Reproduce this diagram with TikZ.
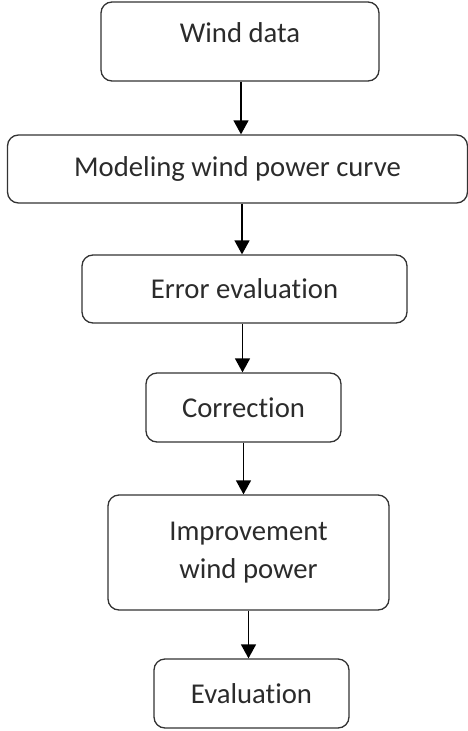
\documentclass[tikz,border=0pt]{standalone}
\usepackage{fontspec}
\setmainfont[Ligatures=NoCommon]{Carlito}
\usepackage{xcolor}
\usetikzlibrary{arrows.meta}

\definecolor{boxline}{HTML}{333333}
\definecolor{boxtext}{HTML}{2B2B2B}

\begin{document}
\begin{tikzpicture}[x=1pt, y=1pt,
			every node/.style={draw=boxline, line width=1.3pt, rounded corners=11pt,
				text=boxtext, align=center, inner sep=0pt,
				font=\fontsize{28.7}{38}\selectfont},
			flow/.style={-{Triangle[length=14pt,width=15pt]}, line width=1.4pt, draw=black}]

			\useasboundingbox (0,0) rectangle (468,-731);

			\node[minimum width=278, minimum height=79, text depth=18pt] (wind) at (240,-41.5) {Wind data};
			\node[minimum width=460, minimum height=68] (model) at (237.5,-169) {Modeling wind power curve};
			\node[minimum width=325, minimum height=68] (error) at (244.5,-289) {Error evaluation};
			\node[minimum width=195, minimum height=69] (corr) at (243.5,-407.5) {Correction};
			\node[minimum width=281, minimum height=115] (improve) at (248.5,-552.5) {Improvement\\wind power};
			\node[minimum width=195, minimum height=69] (eval) at (251.5,-693.5) {Evaluation};

			\draw[flow] ([xshift=1pt]wind.south) -- ([xshift=1pt]wind.south |- model.north);
			\draw[flow] ([xshift=-2.5pt]error.north |- model.south) -- ([xshift=-2.5pt]error.north);
			\draw[flow] ([xshift=-2pt]error.south) -- ([xshift=-2pt]error.south |- corr.north);
			\draw[flow] (corr.south) -- (corr.south |- improve.north);
			\draw[flow] (improve.south) -- (improve.south |- eval.north);
		\end{tikzpicture}
\end{document}
